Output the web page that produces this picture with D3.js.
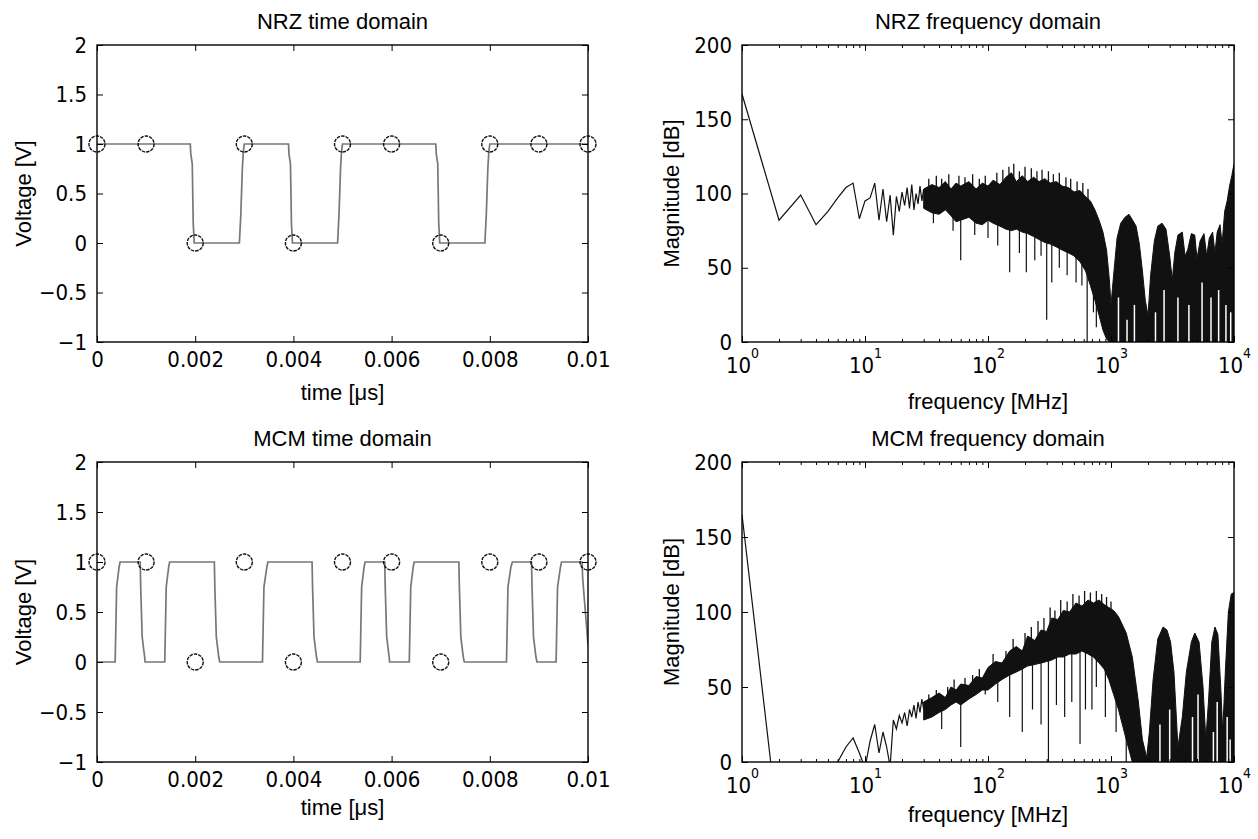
<!DOCTYPE html>
<html>
<head>
<meta charset="utf-8">
<script src="https://cdnjs.cloudflare.com/ajax/libs/d3/7.8.5/d3.min.js"></script>
<style>
body { margin: 0; background: #fff; }
svg { display: block; background: #fff; }
.tick text { font-family: "Liberation Sans Narrow", "DejaVu Sans Condensed", "Liberation Sans", Arial, sans-serif; font-size: 22px; fill: #000; }
.lbl { font-family: "Liberation Sans", Arial, sans-serif; font-size: 22px; fill: #000; }
</style>
</head>
<body>
<svg id="fig" width="1258" height="839"></svg>
<script>
// sampled bits (circles), same for both time plots
const bitTime = [0, 0.001, 0.002, 0.003, 0.004, 0.005, 0.006, 0.007, 0.008, 0.009, 0.01];
const bitValue = [1, 1, 0, 1, 0, 1, 1, 0, 1, 1, 1];

// NRZ waveform
const nrzTime = [0,
  0.0019, 0.00191, 0.00194, 0.00196, 0.00198,
  0.0029, 0.00291, 0.00293, 0.00296, 0.00298, 0.0030,
  0.0039, 0.00391, 0.00394, 0.00396, 0.00398,
  0.0049, 0.00491, 0.00493, 0.00496, 0.00498, 0.0050,
  0.0069, 0.00691, 0.00694, 0.00696, 0.00698,
  0.0079, 0.00791, 0.00793, 0.00796, 0.00798, 0.0080,
  0.01];
const nrzVolt = [1,
  1, 0.9, 0.8, 0.2, 0,
  0, 0.1, 0.3, 0.75, 0.92, 1,
  1, 0.9, 0.8, 0.2, 0,
  0, 0.1, 0.3, 0.75, 0.92, 1,
  1, 0.9, 0.8, 0.2, 0,
  0, 0.1, 0.3, 0.75, 0.92, 1,
  1];

// MCM waveform
const mcmTime = [0, 0.00037, 0.00038, 0.00040, 0.00045, 0.00047,
  0.00088, 0.00089, 0.00092, 0.00097, 0.00098,
  0.00138, 0.00139, 0.00141, 0.00146, 0.00148,
  0.00239, 0.00240, 0.00243, 0.00248, 0.00250,
  0.00337, 0.00338, 0.00340, 0.00346, 0.00348,
  0.00438, 0.00439, 0.00442, 0.00447, 0.00449,
  0.00536, 0.00537, 0.00539, 0.00544, 0.00546,
  0.00586, 0.00587, 0.00590, 0.00595, 0.00596,
  0.00636, 0.00637, 0.00639, 0.00644, 0.00646,
  0.00737, 0.00738, 0.00741, 0.00746, 0.00748,
  0.00834, 0.00835, 0.00837, 0.00843, 0.00846,
  0.00885, 0.00886, 0.00889, 0.00894, 0.00896,
  0.00935, 0.00936, 0.00938, 0.00944, 0.00946,
  0.00988, 0.00989, 0.00993, 0.00998, 0.01];
const mcmVolt = [0, 0, 0.25, 0.75, 0.95, 1,
  1, 0.75, 0.25, 0.05, 0,
  0, 0.25, 0.75, 0.95, 1,
  1, 0.75, 0.25, 0.05, 0,
  0, 0.25, 0.75, 0.95, 1,
  1, 0.75, 0.25, 0.05, 0,
  0, 0.25, 0.75, 0.95, 1,
  1, 0.75, 0.25, 0.05, 0,
  0, 0.25, 0.75, 0.95, 1,
  1, 0.75, 0.25, 0.05, 0,
  0, 0.25, 0.75, 0.95, 1,
  1, 0.75, 0.25, 0.05, 0,
  0, 0.25, 0.75, 0.95, 1,
  1, 0.85, 0.6, 0.3, 0.17];

// NRZ spectrum: low bins, dense band (top / bottom), spikes above, notches below, white slits
const nrzLowFreq = [1, 2, 3, 4, 5, 6, 7, 8, 9, 10, 11, 12, 13, 14, 15, 16, 17, 18, 19, 20, 21, 22, 23, 24, 25, 26, 27, 28, 29, 30];
const nrzLowDb = [167, 82, 99, 79, 88, 97, 104, 107, 83, 95, 97, 107, 82, 103, 81, 99, 72, 98, 88, 101, 92, 104, 90, 106, 89, 100, 93, 105, 95, 103];
const nrzBandFreq = [30, 35, 40, 45, 50, 55, 60, 70, 80, 90, 100, 110, 125, 140, 155, 170, 190, 210, 235, 260, 290, 320, 360, 400, 450, 500, 560, 620, 680, 740, 800, 860, 920, 970,
  1000, 1050, 1120, 1200, 1300, 1400, 1500, 1600, 1700, 1800, 1900, 2000, 2100, 2250, 2400, 2600, 2800, 3000, 3150, 3300, 3500, 3800, 4000, 4200, 4500, 4800, 5000, 5300, 5700, 6000, 6300, 6700, 7000, 7300, 7700, 8000, 8400, 8800, 9200, 9600, 10000];
const nrzBandTop = [103, 106, 104, 108, 103, 107, 105, 108, 103, 107, 105, 109, 106, 111, 114, 108, 112, 108, 111, 108, 110, 107, 108, 105, 104, 101, 102, 98, 95, 89, 82, 74, 62, 42,
  25, 45, 70, 80, 84, 86, 82, 78, 66, 48, 28, 18, 45, 68, 78, 80, 76, 58, 42, 60, 72, 74, 58, 62, 73, 72, 56, 68, 73, 58, 70, 74, 60, 74, 79, 66, 88, 95, 105, 112, 120];
const nrzBandBottom = [90, 87, 86, 89, 85, 81, 82, 84, 80, 79, 82, 80, 78, 76, 75, 76, 74, 73, 71, 69, 67, 66, 64, 62, 60, 58, 54, 48, 38, 28, 18, 8, 2, 0,
  0, 0, 0, 0, 0, 0, 0, 0, 0, 0, 0, 0, 0, 0, 0, 0, 0, 0, 0, 0, 0, 0, 0, 0, 0, 0, 0, 0, 0, 0, 0, 0, 0, 0, 0, 0, 0, 0, 0, 0, 0];
const nrzPeakFreq = [33, 38, 42, 48, 58, 65, 75, 85, 95, 118, 132, 148, 162, 180, 200, 225, 250, 275, 310, 340, 380, 430, 470, 530, 590, 650];
const nrzPeakDb = [110, 112, 110, 113, 112, 111, 113, 110, 112, 114, 116, 118, 120, 115, 118, 117, 115, 116, 115, 113, 114, 111, 110, 108, 107, 103];
const nrzNotchFreq = [36, 52, 60, 78, 100, 120, 150, 180, 205, 240, 270, 300, 330, 380, 440, 520, 580, 640, 720, 760];
const nrzNotchDb = [80, 75, 55, 72, 70, 65, 47, 60, 47, 55, 58, 15, 40, 50, 45, 40, 38, 0, 20, 10];
const nrzSlitFreq = [1150, 1350, 1550, 2300, 2700, 3500, 4300, 5500, 6500, 7500, 8600, 9400];
const nrzSlitDb = [30, 15, 25, 20, 35, 30, 25, 40, 30, 35, 25, 20];

// MCM spectrum
const mcmLowFreq = [1, 2, 3, 4, 5, 6, 7, 8, 9, 10, 11, 12, 13, 14, 15, 16, 17, 18, 19, 20, 21, 22, 23, 24, 25, 26, 27, 28, 29, 30];
const mcmLowDb = [165, -48, -70, -60, -30, 0, 10, 16, 6, -4, 14, 25, 6, 20, 10, -3, 28, 22, 31, 26, 33, 24, 35, 30, 38, 29, 40, 33, 42, 35];
const mcmBandFreq = [30, 35, 40, 45, 50, 55, 60, 70, 80, 90, 100, 115, 130, 150, 170, 190, 210, 240, 270, 300, 330, 370, 410, 460, 520, 580, 650, 720, 800, 880, 960,
  1050, 1150, 1330, 1490, 1670, 1800, 1950, 2050, 2200, 2400, 2650, 2850, 3050, 3250, 3500, 3800, 4100, 4500, 4800, 5200, 5600, 5900, 6200, 6600, 7000, 7400, 7800, 8100, 8500, 9000, 9500, 10000];
const mcmBandTop = [40, 43, 46, 43, 50, 48, 52, 51, 57, 56, 63, 67, 66, 74, 77, 74, 84, 81, 88, 87, 96, 95, 101, 100, 106, 104, 108, 106, 108, 105, 103,
  101, 97, 86, 70, 40, 15, 3, 20, 55, 82, 90, 88, 80, 60, 10, 30, 60, 80, 86, 80, 50, 15, 40, 80, 90, 85, 50, 20, 60, 100, 112, 113];
const mcmBandBottom = [28, 30, 33, 35, 38, 40, 38, 42, 45, 48, 48, 52, 55, 58, 60, 62, 64, 65, 66, 67, 68, 70, 70, 72, 72, 74, 72, 70, 66, 62, 55,
  45, 35, 15, 0, 0, 0, 0, 0, 0, 0, 0, 0, 0, 0, 0, 0, 0, 0, 0, 0, 0, 0, 0, 0, 0, 0, 0, 0, 0, 0, 0, 0];
const mcmPeakFreq = [33, 38, 47, 53, 65, 75, 85, 110, 140, 160, 200, 225, 255, 285, 320, 350, 390, 440, 490, 550, 610, 680, 760, 840, 920, 1000];
const mcmPeakDb = [45, 48, 50, 55, 56, 58, 62, 72, 74, 82, 86, 90, 94, 96, 103, 101, 108, 107, 112, 111, 114, 113, 114, 112, 110, 107];
const mcmNotchFreq = [42, 60, 95, 120, 150, 190, 230, 270, 310, 360, 420, 480, 560, 620, 700, 760, 900, 1100, 1330];
const mcmNotchDb = [22, 10, 45, 40, 30, 20, 35, 25, 0, 38, 30, 40, 12, 35, 35, 50, 30, 20, 0];
const mcmSlitFreq = [2500, 3000, 4600, 5100, 6800, 7300, 8800, 9300];
const mcmSlitDb = [25, 35, 30, 45, 20, 40, 30, 15];

const voltTicks = [-1, -0.5, 0, 0.5, 1, 1.5, 2];
const timeTicks = [0, 0.002, 0.004, 0.006, 0.008, 0.01];
const dbTicks = [0, 50, 100, 150, 200];
const decadeTicks = [1, 10, 100, 1000, 10000];

const svg = d3.select("#fig");
let clipCount = 0;

function makePanel(box, title, xText, yText, xlabOffset, ylabOffset) {
  let g = svg.append("g").attr("transform", "translate(" + box.x + "," + box.y + ")");
  let id = "clip" + (clipCount++);
  g.append("clipPath").attr("id", id)
    .append("rect").attr("width", box.w).attr("height", box.h);

  g.append("text").attr("class", "lbl")
    .attr("x", box.w / 2).attr("y", -16)
    .attr("text-anchor", "middle")
    .text(title);
  g.append("text").attr("class", "lbl")
    .attr("x", box.w / 2).attr("y", box.h + xlabOffset)
    .attr("text-anchor", "middle")
    .text(xText);
  g.append("text").attr("class", "lbl")
    .attr("transform", "translate(" + ylabOffset + "," + (box.h / 2) + ") rotate(-90)")
    .attr("text-anchor", "middle")
    .text(yText);

  let plot = g.append("g").attr("clip-path", "url(#" + id + ")");
  return {g: g, plot: plot, w: box.w, h: box.h};
}

function frame(p) {
  p.g.append("rect")
    .attr("width", p.w).attr("height", p.h)
    .attr("fill", "none").attr("stroke", "#000").attr("stroke-width", 1.4);
}

function cleanAxis(sel) {
  sel.select(".domain").remove();
  sel.selectAll(".tick line").attr("stroke", "#000");
}

function drawTimePanel(box, title, times, volts, labOff) {
  let p = makePanel(box, title, "time [\u03bcs]", "Voltage [V]", labOff, -66);
  let x = d3.scaleLinear().domain([0, 0.01]).range([0, p.w]);
  let y = d3.scaleLinear().domain([-1, 2]).range([p.h, 0]);

  let line = d3.line()
    .x(function (d) { return x(d[0]); })
    .y(function (d) { return y(d[1]); });

  p.plot.append("path")
    .datum(d3.zip(times, volts))
    .attr("d", line)
    .attr("fill", "none")
    .attr("stroke", "#777")
    .attr("stroke-width", 1.7);

  p.g.selectAll("circle.bit")
    .data(d3.zip(bitTime, bitValue))
    .enter()
    .append("circle")
    .attr("class", "bit")
    .attr("cx", function (d) { return x(d[0]); })
    .attr("cy", function (d) { return y(d[1]); })
    .attr("r", 8)
    .attr("fill", "none")
    .attr("stroke", "#111")
    .attr("stroke-width", 1.4)
    .attr("stroke-dasharray", "3.5,1");

  let fmt = function (d) { return d === 0 ? "0" : d3.format(".3~f")(d); };
  p.g.append("g").attr("transform", "translate(0," + p.h + ")")
    .call(d3.axisBottom(x).tickValues(timeTicks).tickSizeInner(-6).tickSizeOuter(0).tickPadding(9).tickFormat(fmt))
    .call(cleanAxis);
  p.g.append("g")
    .call(d3.axisTop(x).tickValues(timeTicks).tickSizeInner(-6).tickSizeOuter(0).tickFormat(""))
    .call(cleanAxis);
  p.g.append("g")
    .call(d3.axisLeft(y).tickValues(voltTicks).tickSizeInner(-6).tickSizeOuter(0).tickPadding(10).tickFormat(d3.format("~g")))
    .call(cleanAxis);
  p.g.append("g").attr("transform", "translate(" + p.w + ",0)")
    .call(d3.axisRight(y).tickValues(voltTicks).tickSizeInner(-6).tickSizeOuter(0).tickFormat(""))
    .call(cleanAxis);
  frame(p);
}

function drawFreqPanel(box, title, s, labOff) {
  let p = makePanel(box, title, "frequency [MHz]", "Magnitude [dB]", labOff, -63);
  let x = d3.scaleLog().domain([1, 10000]).range([0, p.w]);
  let y = d3.scaleLinear().domain([0, 200]).range([p.h, 0]);

  // dense part of the spectrum as a filled band
  let band = d3.zip(s.bandF, s.bandTop, s.bandBottom);
  p.plot.append("path")
    .datum(band)
    .attr("d", d3.area()
      .x(function (d) { return x(d[0]); })
      .y0(function (d) { return y(d[2]); })
      .y1(function (d) { return y(d[1]); }))
    .attr("fill", "#111")
    .attr("stroke", "#111")
    .attr("stroke-width", 1);

  // low bins as a plain line
  p.plot.append("path")
    .datum(d3.zip(s.lowF, s.lowDb))
    .attr("d", d3.line()
      .x(function (d) { return x(d[0]); })
      .y(function (d) { return y(d[1]); }))
    .attr("fill", "none")
    .attr("stroke", "#111")
    .attr("stroke-width", 1.2);

  // single bins sticking out above / below the band, and white slits inside it
  let topAt = d3.scaleLog().domain(s.bandF).range(s.bandTop);
  let bottomAt = d3.scaleLog().domain(s.bandF).range(s.bandBottom);

  function spikes(cls, freqs, dbs, fromFn, colour, width) {
    p.plot.selectAll("line." + cls)
      .data(d3.zip(freqs, dbs))
      .enter()
      .append("line")
      .attr("class", cls)
      .attr("x1", function (d) { return x(d[0]); })
      .attr("x2", function (d) { return x(d[0]); })
      .attr("y1", function (d) { return y(fromFn(d[0])); })
      .attr("y2", function (d) { return y(d[1]); })
      .attr("stroke", colour)
      .attr("stroke-width", width);
  }
  spikes("peak", s.peakF, s.peakDb, function (f) { return topAt(f) - 2; }, "#111", 1.3);
  spikes("notch", s.notchF, s.notchDb, function (f) { return bottomAt(f) + 2; }, "#111", 1.2);
  spikes("slit", s.slitF, s.slitDb, function () { return 0; }, "#fff", 1.5);

  let minor = x.ticks().filter(function (d) { return decadeTicks.indexOf(d) < 0; });

  let bottomAxis = p.g.append("g").attr("transform", "translate(0," + p.h + ")")
    .call(d3.axisBottom(x).tickValues(decadeTicks).tickSizeInner(-6).tickSizeOuter(0).tickPadding(15).tickFormat(function () { return ""; }))
    .call(cleanAxis);
  bottomAxis.selectAll(".tick text")
    .text("10")
    .append("tspan")
    .attr("dy", -15)
    .style("font-size", "14px")
    .text(function (d) { return Math.round(Math.log10(d)); });

  p.g.append("g").attr("transform", "translate(0," + p.h + ")")
    .call(d3.axisBottom(x).tickValues(minor).tickSizeInner(-3).tickSizeOuter(0).tickFormat(""))
    .call(cleanAxis);
  p.g.append("g")
    .call(d3.axisTop(x).tickValues(decadeTicks).tickSizeInner(-6).tickSizeOuter(0).tickFormat(""))
    .call(cleanAxis);
  p.g.append("g")
    .call(d3.axisTop(x).tickValues(minor).tickSizeInner(-3).tickSizeOuter(0).tickFormat(""))
    .call(cleanAxis);
  p.g.append("g")
    .call(d3.axisLeft(y).tickValues(dbTicks).tickSizeInner(-6).tickSizeOuter(0).tickPadding(10))
    .call(cleanAxis);
  p.g.append("g").attr("transform", "translate(" + p.w + ",0)")
    .call(d3.axisRight(y).tickValues(dbTicks).tickSizeInner(-6).tickSizeOuter(0).tickFormat(""))
    .call(cleanAxis);
  frame(p);
}

drawTimePanel({x: 97, y: 45, w: 491, h: 297}, "NRZ time domain", nrzTime, nrzVolt, 58);
drawFreqPanel({x: 742, y: 45, w: 492, h: 297}, "NRZ frequency domain", {
  lowF: nrzLowFreq, lowDb: nrzLowDb,
  bandF: nrzBandFreq, bandTop: nrzBandTop, bandBottom: nrzBandBottom,
  peakF: nrzPeakFreq, peakDb: nrzPeakDb,
  notchF: nrzNotchFreq, notchDb: nrzNotchDb,
  slitF: nrzSlitFreq, slitDb: nrzSlitDb
}, 67);
drawTimePanel({x: 97, y: 462, w: 491, h: 300}, "MCM time domain", mcmTime, mcmVolt, 53);
drawFreqPanel({x: 742, y: 462, w: 492, h: 300}, "MCM frequency domain", {
  lowF: mcmLowFreq, lowDb: mcmLowDb,
  bandF: mcmBandFreq, bandTop: mcmBandTop, bandBottom: mcmBandBottom,
  peakF: mcmPeakFreq, peakDb: mcmPeakDb,
  notchF: mcmNotchFreq, notchDb: mcmNotchDb,
  slitF: mcmSlitFreq, slitDb: mcmSlitDb
}, 60);
</script>
</body>
</html>
